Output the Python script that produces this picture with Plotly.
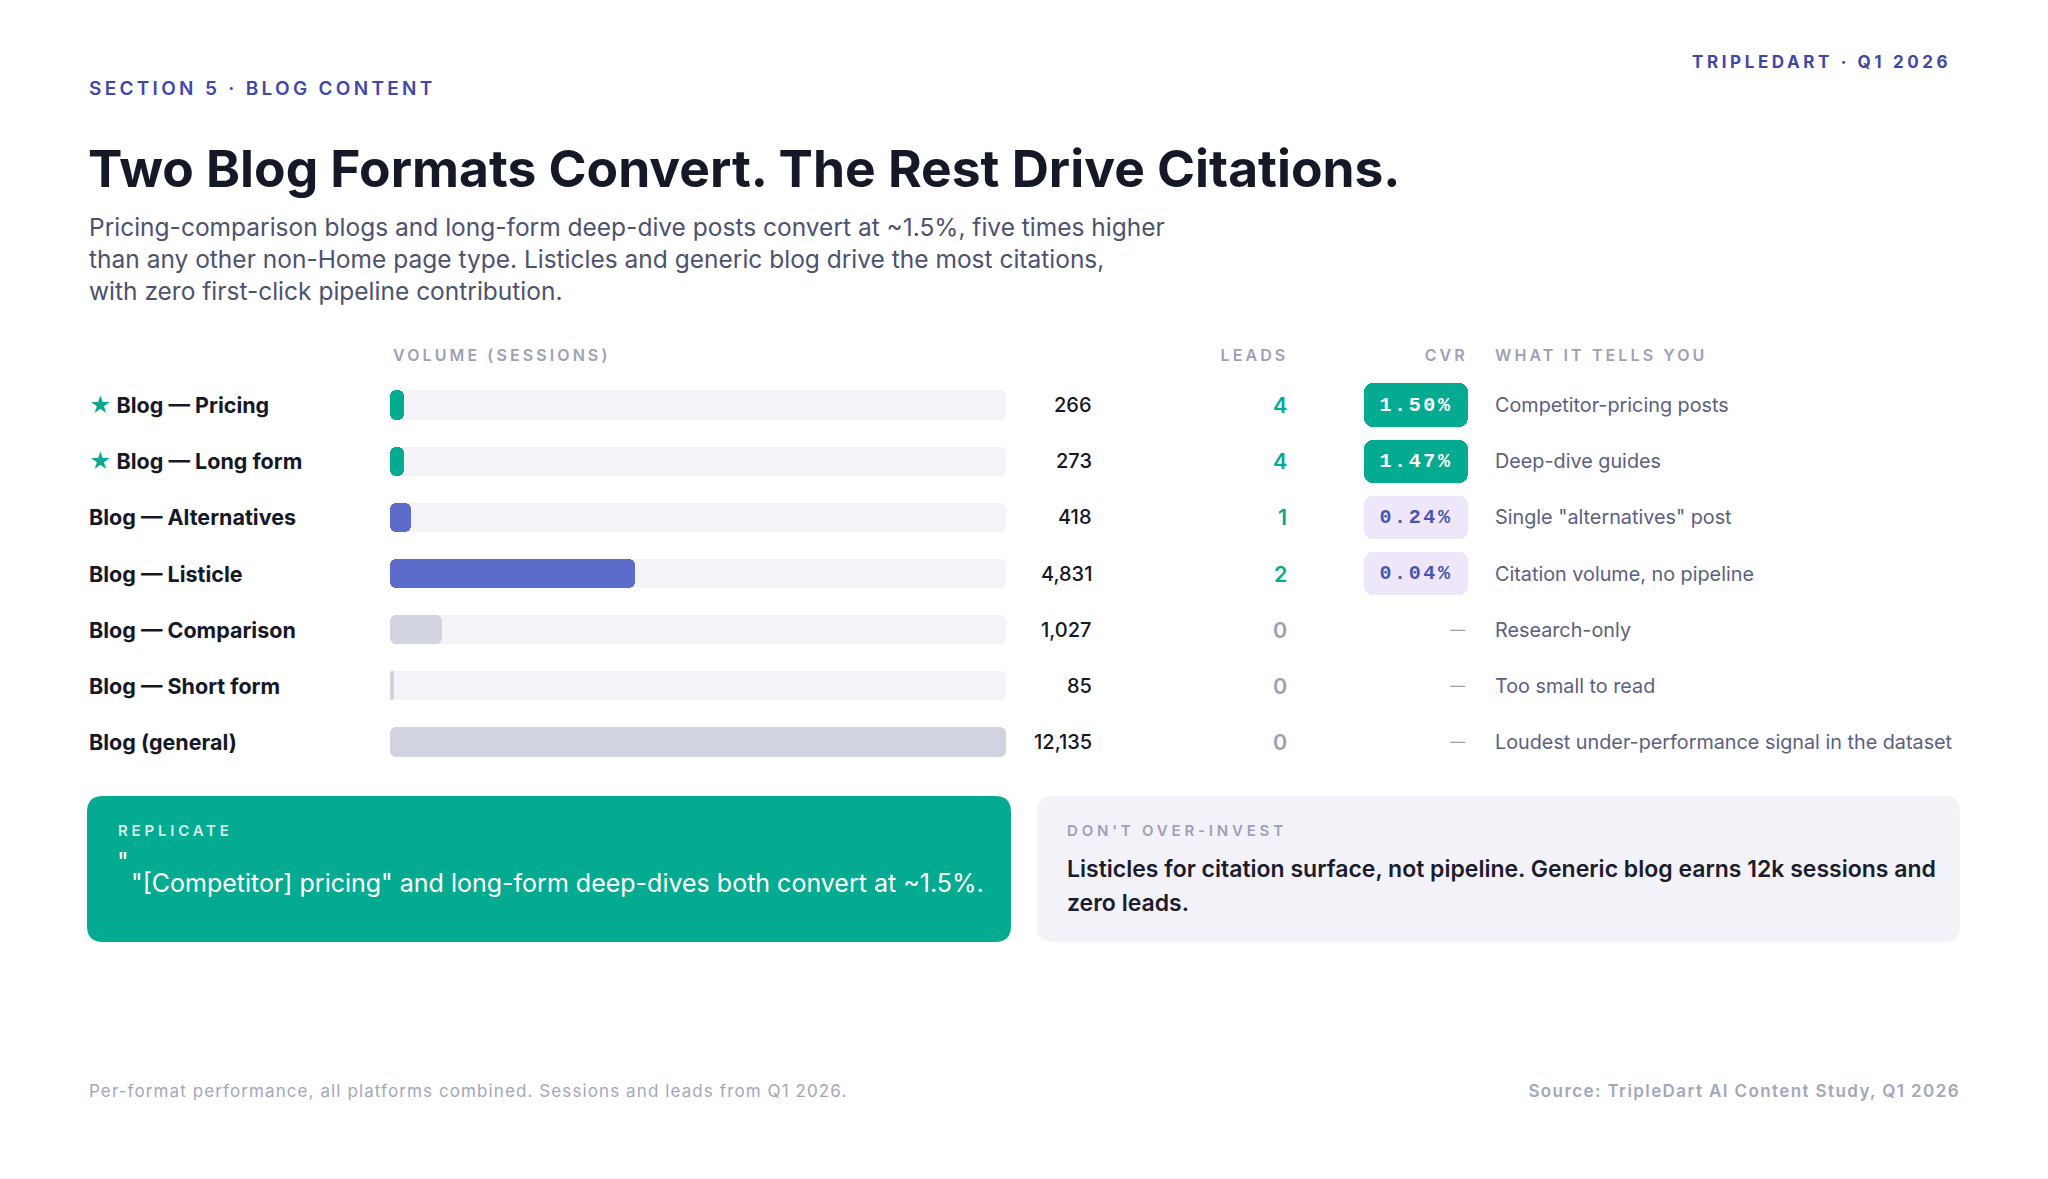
import json
import plotly.graph_objects as go

W, H = 2048, 1179

# data
formats = ["Blog — Pricing", "Blog — Long form", "Blog — Alternatives", "Blog — Listicle",
           "Blog — Comparison", "Blog — Short form", "Blog (general)"]
sessions = [266, 273, 418, 4831, 1027, 85, 12135]
leads = [4, 4, 1, 2, 0, 0, 0]
starred = [True, True, False, False, False, False, False]
tier = ["win", "win", "signal", "signal", "muted", "muted", "muted"]
notes = ["Competitor-pricing posts", "Deep-dive guides", 'Single "alternatives" post',
         "Citation volume, no pipeline", "Research-only", "Too small to read",
         "Loudest under-performance signal in the dataset"]

TEAL = "#04AB91"
INDIGO = "#5D6BCB"
MUTED = "#D1D4E0"
TRACK = "#F3F3F8"
LAVENDER = "#EEE7FA"
INK = "#151827"
GREY = "#9CA1B6"
BODY = "#5A6080"
FONT = "Inter"

bar_colors = {"win": TEAL, "signal": INDIGO, "muted": MUTED}


def px(x):
    return x / W


def py(y):
    return 1 - y / H


cvr = [l / s * 100 for l, s in zip(leads, sessions)]
cvr_text = [f"{c:.2f}%" if l > 0 else "" for c, l in zip(cvr, leads)]
vmax = max(sessions)

fig = go.Figure()


def pill(values, colors, width, radius, xaxis):
    # an explicit base makes plotly round both ends of the bar, not just the tip
    fig.add_trace(go.Bar(orientation="h", y=formats, x=values, base=[0] * len(values),
                         marker=dict(color=colors, cornerradius=radius, line=dict(width=0)),
                         width=width, hoverinfo="skip", xaxis=xaxis, yaxis="y"))


# track + fill bars
pill([vmax] * len(formats), TRACK, 0.52, 6, "x")
pill(sessions, [bar_colors[t] for t in tier], 0.52, 6, "x")

# CVR badges
pill([1 if l > 0 else None for l in leads], [TEAL if c >= 1 else LAVENDER for c in cvr], 0.77, 9, "x2")

ann = []


def label(x, y, text, size, color, weight=400, anchor="left", yref="paper", xref="paper", family=FONT):
    ann.append(dict(x=x, y=y, xref=xref, yref=yref, text=text, showarrow=False,
                    xanchor=anchor, yanchor="middle", align=anchor,
                    font=dict(family=family, size=size, color=color, weight=weight)))


# header
label(px(87), py(89), "SECTION 5 · BLOG CONTENT", 19, "#3F48A8", 600)
label(px(1953), py(62), "TRIPLEDART · Q1 2026", 17, "#3F48A8", 700, anchor="right")
label(px(86), py(168), "Two Blog Formats Convert. The Rest Drive Citations.", 51.5, INK, 700)
ann.append(dict(x=px(87), y=py(210), xref="paper", yref="paper", showarrow=False,
                xanchor="left", yanchor="top", align="left",
                text="Pricing-comparison blogs and long-form deep-dive posts convert at ~1.5%, five times higher<br>"
                     "than any other non-Home page type. Listicles and generic blog drive the most citations,<br>"
                     "with zero first-click pipeline contribution.",
                font=dict(family=FONT, size=24.5, color="#4D5270")))

# column headers
label(px(391), py(355), "VOLUME (SESSIONS)", 16, GREY, 600)
label(px(1290), py(355), "LEADS", 16, GREY, 600, anchor="right")
label(px(1470), py(355), "CVR", 16, GREY, 600, anchor="right")
label(px(1493), py(355), "WHAT IT TELLS YOU", 16, GREY, 600)

# rows
for f, s, l, star, note, c, rate in zip(formats, sessions, leads, starred, notes, cvr_text, cvr):
    name = f'<span style="color:{TEAL}">★</span> {f}' if star else f
    label(px(87), f, name, 21.5, INK, 700, yref="y")
    label(px(1094), f, f"{s:,}", 20, INK, 500, anchor="right", yref="y")
    label(px(1289), f, str(l), 21.5, TEAL if l > 0 else GREY, 600, anchor="right", yref="y")
    if c:
        label(0.5, f, c, 20, "#FFFFFF" if rate >= 1 else "#4A55B2", 700, anchor="center",
              xref="x2", yref="y", family="Liberation Mono")
    else:
        label(px(1467), f, "—", 15, GREY, 400, anchor="right", yref="y")
    label(px(1493), f, note, 19.8, BODY, 400, yref="y")

# takeaway cards
label(px(116), py(830), "REPLICATE", 15, "#D6F1EA", 600)
label(px(115), py(862), '"', 25, "#FFFFFF", 400)
label(px(129), py(883), '"[Competitor] pricing" and long-form deep-dives both convert at ~1.5%.', 25, "#FFFFFF", 400)
label(px(1065), py(830), "DON'T OVER-INVEST", 15, GREY, 600)
label(px(1065), py(869), "Listicles for citation surface, not pipeline. Generic blog earns 12k sessions and",
      23, "#1B1D2E", 600)
label(px(1065), py(903), "zero leads.", 23, "#1B1D2E", 600)

# footer
label(px(87), py(1091), "Per-format performance, all platforms combined. Sessions and leads from Q1 2026.", 17, "#A3A7BA", 400)
label(px(1962), py(1091), "Source: TripleDart AI Content Study, Q1 2026", 17, "#A3A7BA", 600, anchor="right")


def card(x0, y0, x1, y1, r, color):
    rx, ry = r / W, r / H
    a0, a1, b0, b1 = px(x0), px(x1), py(y1), py(y0)
    path = (f"M{a0 + rx},{b0} L{a1 - rx},{b0} Q{a1},{b0} {a1},{b0 + ry} L{a1},{b1 - ry} "
            f"Q{a1},{b1} {a1 - rx},{b1} L{a0 + rx},{b1} Q{a0},{b1} {a0},{b1 - ry} "
            f"L{a0},{b0 + ry} Q{a0},{b0} {a0 + rx},{b0} Z")
    return dict(type="path", path=path, xref="paper", yref="paper", fillcolor=color,
                line=dict(width=0), layer="below")


hidden = dict(visible=False, fixedrange=True)

fig.update_layout(
    width=W, height=H, margin=dict(l=0, r=0, t=0, b=0),
    paper_bgcolor="#FFFFFF", plot_bgcolor="rgba(0,0,0,0)",
    barmode="overlay", showlegend=False, bargap=0,
    xaxis=dict(domain=[px(390), px(1006)], range=[0, vmax], **hidden),
    xaxis2=dict(domain=[px(1364), px(1468)], range=[0, 1], anchor="y", **hidden),
    yaxis=dict(domain=[py(770), py(377)], autorange="reversed", **hidden),
    annotations=ann,
    shapes=[card(87, 796, 1011, 942, 16, TEAL), card(1037, 796, 1960, 942, 16, "#F3F2F9")],
)

# letter-spaced caps labels (plotly fonts have no tracking option)
spacing = {
    "SECTION 5 · BLOG CONTENT": "3.3px",
    "TRIPLEDART · Q1 2026": "3.6px",
    "VOLUME (SESSIONS)": "3.1px",
    "LEADS": "3.1px",
    "CVR": "3.1px",
    "WHAT IT TELLS YOU": "3.1px",
    "REPLICATE": "3.8px",
    "DON'T OVER-INVEST": "3.8px",
    "Per-format performance, all platforms combined. Sessions and leads from Q1 2026.": "1.1px",
    "Source: TripleDart AI Content Study, Q1 2026": "1.4px",
}
for t in cvr_text:
    if t:
        spacing[t] = "2.6px"

post = ("document.body.style.margin = '0';"
        "var gd = document.getElementById('{plot_id}');"
        "var sp = " + json.dumps(spacing) + ";"
        "gd.querySelectorAll('text.annotation-text').forEach(function(t){"
        "var v = sp[t.textContent]; if (v) { t.style.letterSpacing = v; }});")

fig.write_html("out.html", post_script=post, config={"displayModeBar": False})
